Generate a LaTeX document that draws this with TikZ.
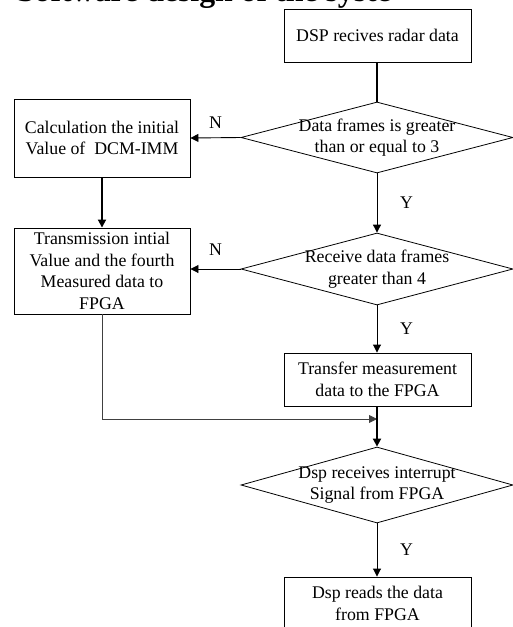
\documentclass[tikz,border=0pt]{standalone}
\usepackage{fontspec}
\setmainfont{Liberation Serif}
\usetikzlibrary{shapes.geometric,arrows.meta}
\begin{document}
\begin{tikzpicture}[x=0.5pt,y=-0.5pt,
  every node/.style={font=\fontsize{8.9}{10.8}\selectfont,align=center},
  box/.style={draw,line width=0.45pt,inner sep=0pt},
  decision/.style={draw,diamond,aspect=3.8,inner xsep=0pt,inner ysep=-4pt,line width=0.4pt,minimum width=136pt,minimum height=35.5pt},
  flow/.style={line width=0.45pt,-{Triangle[length=4pt,width=4pt]}},
  boldflow/.style={line width=0.9pt,-{Triangle[length=4pt,width=4pt]}}]
\clip (0,0) rectangle (513,627);
\node[font=\fontsize{15.9}{18}\selectfont\bfseries,anchor=base west] (title) at (10,1.5) {Software design of the syste};
\node[box,minimum width=93.5pt,minimum height=26.5pt] (recv) at (377.5,35.5) {DSP recives radar data};
\node[decision,minimum height=35.5pt] (three) at (377,137.5) {Data frames is greater\\than or equal to 3};
\node[box,minimum width=88pt,minimum height=39pt] (calc) at (102,138) {Calculation the initial\\Value of~~DCM-IMM};
\node[decision,minimum height=36pt] (four) at (377,269) {Receive data frames\\greater than 4};
\node[box,minimum width=88pt,minimum height=43pt] (trans) at (102,271) {Transmission intial\\Value and the fourth\\Measured data to\\FPGA};
\node[box,minimum width=93.5pt,minimum height=26.5pt] (transfer) at (377.5,379.5) {Transfer measurement\\data to the FPGA};
\node[decision,minimum height=38pt] (irq) at (377,485) {Dsp receives interrupt\\Signal from FPGA};
\node[box,minimum width=93.5pt,minimum height=26.5pt] (read) at (377.5,603.5) {Dsp reads the data\\from FPGA};
\coordinate (join) at (377,419);
\draw[line width=0.6pt] (recv.south -| three.north) -- (three.north);
\draw[flow] (three.west) -- (calc.east) node[midway,above=1pt] {N};
\draw[boldflow] (calc.south) -- (trans.north);
\draw[flow] (three.south) -- (four.north) node[midway,right=8pt] {Y};
\draw[flow] (four.west) -- (four.west -| trans.east) node[midway,above=3pt] {N};
\draw[flow] (four.south) -- (transfer.north -| four.south) node[midway,right=8pt] {Y};
\draw[flow,black!75] (trans.south) |- (join);
\draw[boldflow] (transfer.south -| irq.north) -- (irq.north);
\draw[flow] (irq.south) -- (read.north -| irq.south) node[midway,right=8pt] {Y};
\end{tikzpicture}
\end{document}
